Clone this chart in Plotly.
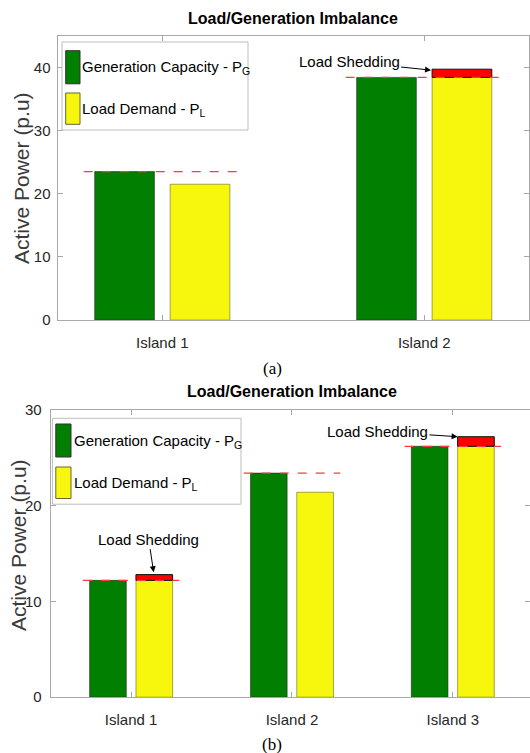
import numpy as np
import plotly.graph_objects as go

# ---------------- data ----------------
islands_a = ["Island 1", "Island 2"]
gen_a = [23.5, 38.4]          # Generation capacity P_G (p.u)
load_a = [21.5, 39.7]         # Load demand P_L (p.u)
yticks_a = [0, 10, 20, 30, 40]

islands_b = ["Island 1", "Island 2", "Island 3"]
gen_b = [12.2, 23.4, 26.2]
load_b = [12.8, 21.4, 27.2]
yticks_b = [0, 10, 20, 30]

title_text = "Load/Generation Imbalance"
ylabel_text = "Active Power (p.u)"
legend_gen = "Generation Capacity - P<sub>G</sub>"
legend_load = "Load Demand - P<sub>L</sub>"
shed_text = "Load Shedding"

# ---------------- style ----------------
W, H = 530, 753
GREEN = "#007f00"
YELLOW = "#f7f70d"
RED = "#ff0000"
AXC = "#a8a8a8"
TXT = "#262626"
SANS = "Liberation Sans, Arial, sans-serif"
BAR_W = 0.228
OFF = 0.144
DASH_HALF = 0.30


def px(x):
    return x / W


def py(y):
    return 1 - y / H


fig = go.Figure()


def add_panel(cats, gen, load, xa, ya):
    x = np.arange(1, len(cats) + 1)
    gen = np.array(gen, dtype=float)
    load = np.array(load, dtype=float)
    served = np.minimum(gen, load)
    shed = np.clip(load - gen, 0, None)
    fig.add_bar(x=x, y=gen, width=BAR_W, offset=-OFF - BAR_W / 2,
                marker=dict(color=GREEN, line=dict(color="rgba(30,30,30,0.55)", width=1)),
                xaxis=xa, yaxis=ya, showlegend=False, name="Generation Capacity - P_G")
    fig.add_bar(x=x, y=served, width=BAR_W, offset=OFF - BAR_W / 2,
                marker=dict(color=YELLOW, line=dict(color="rgba(60,60,0,0.45)", width=1)),
                xaxis=xa, yaxis=ya, showlegend=False, name="Load Demand - P_L")
    m = shed > 0
    fig.add_bar(x=x[m], y=shed[m], base=gen[m], width=BAR_W, offset=OFF - BAR_W / 2,
                marker=dict(color=RED, line=dict(color="#111111", width=1)),
                xaxis=xa, yaxis=ya, showlegend=False, name="Load Shedding")
    for xi, g in zip(x, gen):
        fig.add_scatter(x=[xi - DASH_HALF, xi + DASH_HALF], y=[g, g], mode="lines",
                        line=dict(color="#ff3b3b", width=1.2, dash="dash"),
                        xaxis=xa, yaxis=ya, showlegend=False, hoverinfo="skip")
    return x


xa_pos = add_panel(islands_a, gen_a, load_a, "x", "y")
xb_pos = add_panel(islands_b, gen_b, load_b, "x2", "y2")

axis_common = dict(showline=True, linecolor=AXC, linewidth=1, mirror="ticks",
                   ticks="inside", ticklen=5, tickcolor=AXC, showgrid=False,
                   zeroline=False, automargin=False,
                   tickfont=dict(family=SANS, size=15, color=TXT))

fig.update_layout(
    width=W, height=H, margin=dict(l=0, r=0, t=0, b=0, autoexpand=False),
    paper_bgcolor="white", plot_bgcolor="white", barmode="overlay",
    xaxis=dict(domain=[px(57.5), px(529)], range=[0.6, 2.4], tickvals=list(xa_pos),
               ticktext=islands_a, anchor="y", ticklabelstandoff=9, **axis_common),
    yaxis=dict(domain=[py(320.1), py(35.7)], range=[0, 45], tickvals=yticks_a,
               anchor="x", ticklabelstandoff=3, **axis_common),
    xaxis2=dict(domain=[px(50.7), 1.0], range=[0.5, 3.48], tickvals=list(xb_pos),
                ticktext=islands_b, anchor="y2", ticklabelstandoff=9, **axis_common),
    yaxis2=dict(domain=[py(697.2), py(409.9)], range=[0, 30], tickvals=yticks_b,
                anchor="x2", ticklabelstandoff=5, **axis_common),
)

shapes = []
annots = []


def legend(x0, x1, y0, y1, sw_x0, sw_x1, g_y, l_y, tx, g_ty, l_ty):
    shapes.append(dict(type="rect", xref="paper", yref="paper", x0=px(x0), x1=px(x1),
                       y0=py(y1), y1=py(y0), line=dict(color="#bdbdbd", width=1),
                       fillcolor="white", layer="above"))
    shapes.append(dict(type="rect", xref="paper", yref="paper", x0=px(sw_x0), x1=px(sw_x1),
                       y0=py(g_y[1]), y1=py(g_y[0]), line=dict(color="#333333", width=1),
                       fillcolor=GREEN, layer="above"))
    shapes.append(dict(type="rect", xref="paper", yref="paper", x0=px(sw_x0), x1=px(sw_x1),
                       y0=py(l_y[1]), y1=py(l_y[0]), line=dict(color="#666633", width=1),
                       fillcolor=YELLOW, layer="above"))
    for t, yy in ((legend_gen, g_ty), (legend_load, l_ty)):
        annots.append(dict(text=t, xref="paper", yref="paper", x=px(tx), y=py(yy),
                           xanchor="left", yanchor="middle", showarrow=False,
                           font=dict(family=SANS, size=15, color="#000000")))


legend(62, 248, 42, 130, 65.7, 80, (50.7, 83.8), (93, 124.3), 80, 67, 110)
legend(52.4, 241, 418.3, 504.2, 55.8, 71, (424, 457), (467, 498.5), 72, 441, 483)

# titles
for xc, yc in ((293, 18.6), (292, 391)):
    annots.append(dict(text="<b>" + title_text + "</b>", xref="paper", yref="paper",
                       x=px(xc), y=py(yc), xanchor="center", yanchor="middle",
                       showarrow=False, font=dict(family=SANS, size=16, color="#000000")))

# y labels
for xc, yc in ((21, 178), (18, 545)):
    annots.append(dict(text=ylabel_text, xref="paper", yref="paper", x=px(xc), y=py(yc),
                       textangle=-90, xanchor="center", yanchor="middle", showarrow=False,
                       font=dict(family=SANS, size=21, color="#3a3a3a")))

# captions
for t, yc in (("(a)", 368.7), ("(b)", 744.5)):
    annots.append(dict(text=t, xref="paper", yref="paper", x=px(272), y=py(yc),
                       xanchor="center", yanchor="middle", showarrow=False,
                       font=dict(family="Liberation Serif, Times New Roman, serif", size=17,
                                 color="#000000")))

# Load shedding labels with arrows (arrow head at (x, y), label centred at (ax, ay))
shed_specs = [
    # (xaxis, yaxis, head_x, head_y, label_x, label_y)
    ("x", "y", 2.026, 39.55, 1.713, 40.9),
    ("x2", "y2", 3.03, 27.2, 2.532, 27.75),
    ("x2", "y2", 1.140, 13.05, 1.109, 16.51),
]
for xr, yr, hx, hy, tx, ty in shed_specs:
    annots.append(dict(text=shed_text, xref=xr, yref=yr, x=hx, y=hy, ax=tx, ay=ty,
                       axref=xr, ayref=yr, showarrow=True, arrowhead=2, arrowsize=1.2,
                       arrowwidth=1, arrowcolor="#000000", standoff=0,
                       font=dict(family=SANS, size=15, color="#000000")))

fig.update_layout(shapes=shapes, annotations=annots)
fig.write_html("out.html")
